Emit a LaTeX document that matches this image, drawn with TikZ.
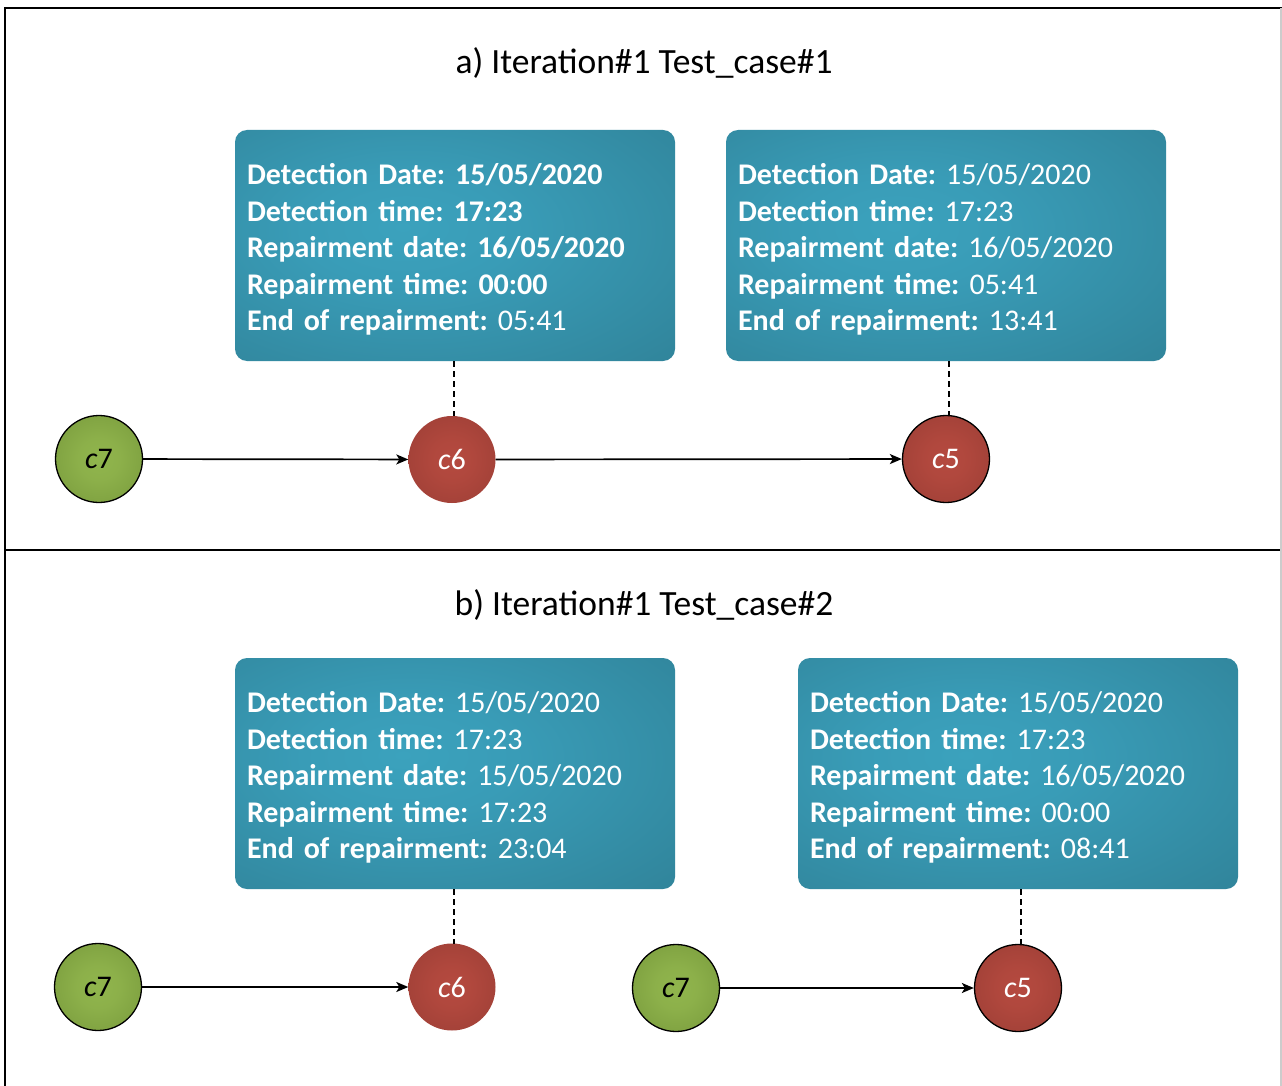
\documentclass[tikz,border=0pt]{standalone}
\usepackage{fontspec}
\setmainfont{Carlito}
\usetikzlibrary{arrows.meta}
\pgfdeclareradialshading{boxshade}{\pgfpoint{-6bp}{4bp}}{rgb(0bp)=(0.231,0.635,0.741); rgb(12bp)=(0.224,0.612,0.718); rgb(52bp)=(0.176,0.478,0.557); rgb(100bp)=(0.176,0.478,0.557)}
\pgfdeclareradialshading{redshade}{\pgfpoint{0bp}{0bp}}{rgb(0bp)=(0.71,0.29,0.25); rgb(12bp)=(0.69,0.28,0.24); rgb(50bp)=(0.56,0.22,0.19); rgb(100bp)=(0.56,0.22,0.19)}
\pgfdeclareradialshading{greenshade}{\pgfpoint{0bp}{0bp}}{rgb(0bp)=(0.565,0.71,0.30); rgb(12bp)=(0.55,0.69,0.29); rgb(50bp)=(0.42,0.55,0.20); rgb(100bp)=(0.42,0.55,0.20)}
\begin{document}
\frenchspacing
\begin{tikzpicture}[x=1pt,y=-1pt,
  infobox/.style={rectangle, rounded corners=12pt, shade, shading=boxshade,
    minimum height=231pt, text width=416pt, inner xsep=12pt, inner ysep=0pt,
    align=left, text=white, font=\fontsize{30}{36.6}\selectfont\frenchspacing},
  cnode/.style={circle, minimum size=87pt, inner sep=0pt, font=\fontsize{30}{32}\selectfont},
  redc/.style={cnode, shade, shading=redshade, text=white},
  greenc/.style={cnode, shade, shading=greenshade, text=black, draw=black, line width=1.3pt},
  conn/.style={-{Stealth[length=12pt,width=10pt,inset=3pt]}, line width=1.7pt},
  dashline/.style={line width=2.2pt, dash pattern=on 6pt off 4pt},
  frame/.style={line width=2pt},
  title/.style={font=\fontsize{35.5}{40}\selectfont\frenchspacing}
]
\useasboundingbox (0,0) rectangle (1282,1086);
\fill[white] (0,0) rectangle (1282,1086);
% frame
\draw[frame] (5,1086) -- (5,8) -- (1282,8);
\draw[frame] (5,550) -- (1282,550);
\draw[black!20, line width=1.5pt] (1281,8) -- (1281,1086);

% panel a
\node[title] (ta) at (644,63) {a) Iteration\#1 Test\_case\#1};
\node[infobox] (ba1) at (455,245.5) {\rule{0pt}{29pt}\textbf{Detection Date: 15/05/2020}\\
\textbf{Detection time: 17:23}\\
\textbf{Repairment date: 16/05/2020}\\
\textbf{Repairment time: 00:00}\\
\textbf{End of repairment:} 05:41};
\node[infobox] (ba2) at (946,245.5) {\rule{0pt}{29pt}\textbf{Detection Date:} 15/05/2020\\
\textbf{Detection time:} 17:23\\
\textbf{Repairment date:} 16/05/2020\\
\textbf{Repairment time:} 05:41\\
\textbf{End of repairment:} 13:41};
\node[greenc] (a7) at (99,459) {\textit{c}7};
\node[redc] (a6) at (452,459.5) {\textit{c}6};
\node[redc, draw=black, line width=1.3pt] (a5) at (946,459) {\textit{c}5};
\draw[conn] (a7) -- (a6);
\draw[conn] (a6) -- (a5);
\draw[dashline] (ba1.south -| 454,0) -- (454,416);
\draw[dashline] (ba2.south -| 949,0) -- (949,416);

% panel b
\node[title] (tb) at (644,605) {b) Iteration\#1 Test\_case\#2};
\node[infobox] (bb1) at (455,773.5) {\rule{0pt}{29pt}\textbf{Detection Date:} 15/05/2020\\
\textbf{Detection time:} 17:23\\
\textbf{Repairment date:} 15/05/2020\\
\textbf{Repairment time:} 17:23\\
\textbf{End of repairment:} 23:04};
\node[infobox] (bb2) at (1018,773.5) {\rule{0pt}{29pt}\textbf{Detection Date:} 15/05/2020\\
\textbf{Detection time:} 17:23\\
\textbf{Repairment date:} 16/05/2020\\
\textbf{Repairment time:} 00:00\\
\textbf{End of repairment:} 08:41};
\node[greenc] (b7) at (98,987) {\textit{c}7};
\node[redc] (b6) at (452,987) {\textit{c}6};
\node[greenc] (b7b) at (676,988) {\textit{c}7};
\node[redc, draw=black, line width=1.3pt] (b5) at (1018,988) {\textit{c}5};
\draw[conn] (b7) -- (b6);
\draw[conn] (b7b) -- (b5);
\draw[dashline] (bb1.south -| 454,0) -- (454,944);
\draw[dashline] (bb2.south -| 1021,0) -- (1021,944);
\end{tikzpicture}
\end{document}
